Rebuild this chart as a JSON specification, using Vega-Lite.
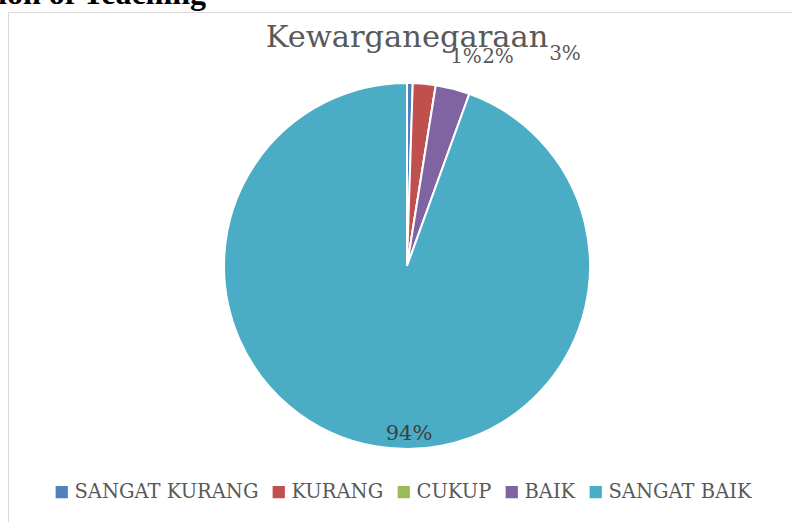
{
  "$schema": "https://vega.github.io/schema/vega-lite/v6.json",
  "autosize": {"type": "none"},
  "padding": {"left": 8, "top": 12, "right": 0, "bottom": 0},
  "width": 784,
  "height": 510,
  "background": "white",
  "title": {
    "text": "ion of Teaching",
    "anchor": "start",
    "frame": "group",
    "orient": "top",
    "offset": 2,
    "baseline": "bottom",
    "dx": -10,
    "dy": 33,
    "font": "Liberation Serif",
    "fontSize": 32,
    "fontWeight": "bold",
    "color": "#000000"
  },
  "view": {"stroke": "#d9d9d9", "strokeWidth": 1, "strokeDash": [784, 510, 1294, 0]},
  "data": {
    "values": [
      {"kategori": "SANGAT KURANG", "nilai": 0.5, "label": "1%", "urutan": 1},
      {"kategori": "KURANG", "nilai": 2, "label": "2%", "urutan": 2},
      {"kategori": "CUKUP", "nilai": 0, "label": "0%", "urutan": 3},
      {"kategori": "BAIK", "nilai": 3, "label": "3%", "urutan": 4},
      {"kategori": "SANGAT BAIK", "nilai": 94, "label": "94%", "urutan": 5}
    ]
  },
  "layer": [
    {
      "mark": {"type": "arc", "outerRadius": 183, "stroke": "white", "strokeWidth": 2, "xOffset": 7, "yOffset": -1},
      "encoding": {
        "theta": {"field": "nilai", "type": "quantitative", "stack": true},
        "order": {"field": "urutan", "type": "quantitative"},
        "color": {
          "field": "kategori",
          "type": "nominal",
          "scale": {
            "domain": ["SANGAT KURANG", "KURANG", "CUKUP", "BAIK", "SANGAT BAIK"],
            "range": ["#4F81BD", "#C0504D", "#9BBB59", "#8064A2", "#4BACC6"]
          },
          "legend": {
            "orient": "none",
            "legendX": 44,
            "legendY": 470,
            "direction": "horizontal",
            "title": null,
            "symbolType": "square",
            "symbolSize": 150,
            "symbolStrokeWidth": 0,
            "labelFont": "DejaVu Serif",
            "labelFontSize": 19.5,
            "labelColor": "#595959",
            "labelOffset": 3,
            "columnPadding": 10,
            "labelLimit": 300
          }
        }
      }
    },
    {
      "transform": [{"filter": "datum.kategori == 'SANGAT KURANG'"}],
      "mark": {"type": "text", "dx": 66, "dy": -210, "font": "DejaVu Serif", "fontSize": 20, "color": "#595959", "baseline": "middle"},
      "encoding": {"text": {"field": "label"}}
    },
    {
      "transform": [{"filter": "datum.kategori == 'KURANG'"}],
      "mark": {"type": "text", "dx": 98, "dy": -210, "font": "DejaVu Serif", "fontSize": 20, "color": "#595959", "baseline": "middle"},
      "encoding": {"text": {"field": "label"}}
    },
    {
      "transform": [{"filter": "datum.kategori == 'BAIK'"}],
      "mark": {"type": "text", "dx": 165, "dy": -213, "font": "DejaVu Serif", "fontSize": 20, "color": "#595959", "baseline": "middle"},
      "encoding": {"text": {"field": "label"}}
    },
    {
      "transform": [{"filter": "datum.kategori == 'SANGAT BAIK'"}],
      "mark": {"type": "text", "dx": 9, "dy": 167, "font": "DejaVu Serif", "fontSize": 21, "color": "#404040", "baseline": "middle"},
      "encoding": {"text": {"field": "label"}}
    },
    {
      "data": {"values": [{"judul": "Kewarganegaraan"}]},
      "mark": {"type": "text", "dx": 7, "dy": -220, "font": "DejaVu Serif", "fontSize": 30.5, "color": "#595959", "baseline": "alphabetic"},
      "encoding": {"text": {"field": "judul"}}
    }
  ]
}
